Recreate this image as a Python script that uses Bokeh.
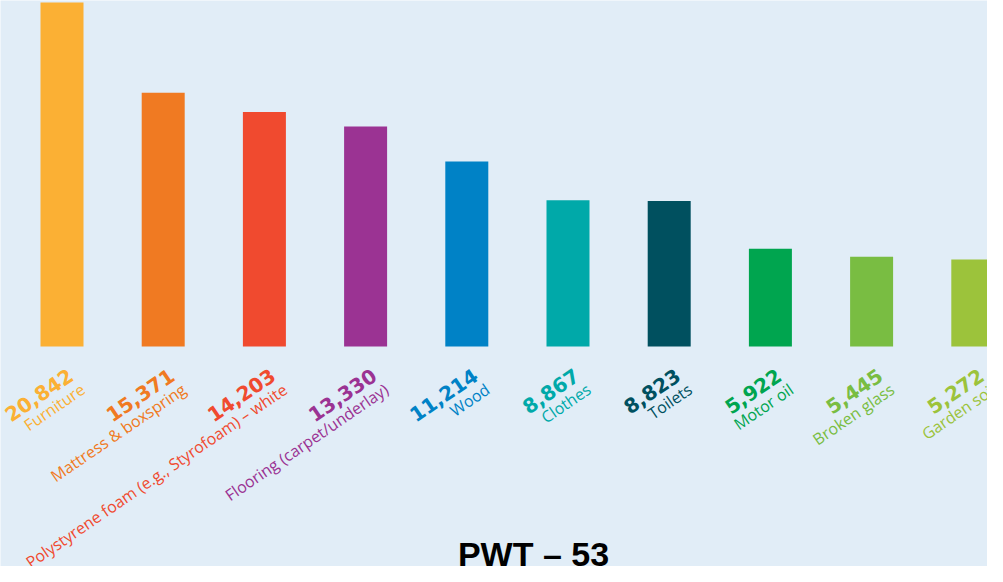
from bokeh.plotting import figure
from bokeh.models import Range1d, Label, ColumnDataSource
from bokeh.core.properties import value
from bokeh.embed import file_html
from bokeh.resources import INLINE

categories = ["Furniture", "Mattress & boxspring", "Polystyrene foam (e.g., Styrofoam) \u2013 white",
              "Flooring (carpet/underlay)", "Wood", "Clothes", "Toilets", "Motor oil",
              "Broken glass", "Garden soil"]
values = [20842, 15371, 14203, 13330, 11214, 8867, 8823, 5922, 5445, 5272]
colors = ["#fbb034", "#f07a22", "#f04a2f", "#9b3393", "#0082c6",
          "#00a9a9", "#00505f", "#00a54f", "#79bd42", "#9cc33b"]
title_text = "PWT \u2013 53"

BG = "#e1edf7"
W, H = 987, 566
step = 101.2          # px between bar centres
first = 61.5          # px of first bar centre
base_px = 346         # px from top of the bar baseline
k = 344 / max(values)  # px per unit

xs = list(range(len(values)))
src = ColumnDataSource(dict(
    x=xs, top=values, color=colors,
    num=[f"{v:,}" for v in values], cat=categories))

p = figure(width=W, height=H,
           x_range=Range1d(-first / step, (W - first) / step),
           y_range=Range1d(-(H - base_px) / k, base_px / k),
           min_border=0, toolbar_location=None, output_backend="svg")
p.axis.visible = False
p.grid.visible = False
p.outline_line_color = None
p.background_fill_color = BG
p.border_fill_color = BG

p.vbar(x="x", top="top", bottom=0, width=43 / step, color="color", line_color=None, source=src)

ang = 0.6
p.text(x="x", y=0, text="num", source=src, x_offset=9, y_offset=27, angle=ang,
       text_align="right", text_baseline="alphabetic", text_color="color",
       text_font=value("DejaVu Sans"), text_font_style="bold", text_font_size="20px")
p.text(x="x", y=0, text="cat", source=src, x_offset=21, y_offset=41, angle=ang,
       text_align="right", text_baseline="alphabetic", text_color="color",
       text_font=value("Open Sans"), text_font_size="16px")

p.add_layout(Label(x=533, y=13, x_units="screen", y_units="screen", text=title_text,
                   text_align="center", text_baseline="alphabetic", text_color="black",
                   text_font="Liberation Sans", text_font_style="bold", text_font_size="34px"))

open("out.html", "w").write(file_html(p, INLINE))
